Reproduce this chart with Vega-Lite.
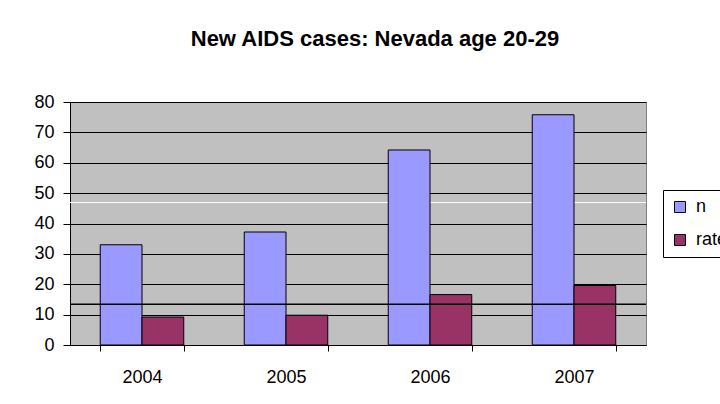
{
  "$schema": "https://vega.github.io/schema/vega-lite/v6.json",
  "autosize": {"type": "none"},
  "width": 576,
  "height": 243,
  "padding": {"left": 70, "top": 102, "right": 74, "bottom": 59},
  "background": "white",
  "title": {
    "text": "New AIDS cases: Nevada age 20-29",
    "font": "Liberation Sans",
    "fontSize": 22,
    "fontWeight": "bold",
    "color": "black",
    "anchor": "middle",
    "frame": "group",
    "baseline": "alphabetic",
    "offset": 25,
    "dx": 17
  },
  "config": {
    "font": "Liberation Sans",
    "view": {"fill": "#C0C0C0", "stroke": "#808080", "strokeWidth": 1}
  },
  "datasets": {
    "bars": [
      {"year": "2004", "series": "n", "value": 33},
      {"year": "2004", "series": "rate", "value": 9.2},
      {"year": "2005", "series": "n", "value": 37.2},
      {"year": "2005", "series": "rate", "value": 9.8},
      {"year": "2006", "series": "n", "value": 64.2},
      {"year": "2006", "series": "rate", "value": 16.6},
      {"year": "2007", "series": "n", "value": 75.8},
      {"year": "2007", "series": "rate", "value": 19.6}
    ],
    "whiteLine": [{"value": 46.9}],
    "blackLine": [{"value": 13.4}]
  },
  "layer": [
    {
      "data": {"name": "whiteLine"},
      "mark": {"type": "rule", "color": "white", "strokeWidth": 1},
      "encoding": {
        "y": {"field": "value", "type": "quantitative"}
      }
    },
    {
      "data": {"name": "bars"},
      "mark": {"type": "bar", "stroke": "black", "strokeWidth": 1},
      "encoding": {
        "x": {
          "field": "year",
          "type": "nominal",
          "scale": {"paddingInner": 0.42, "paddingOuter": 0.21},
          "axis": {
            "title": null,
            "labelAngle": 0,
            "tickBand": "extent",
            "tickColor": "black",
            "tickSize": 6,
            "domainColor": "black",
            "labelFontSize": 18,
            "labelColor": "black",
            "labelPadding": 17,
            "grid": false
          }
        },
        "xOffset": {"field": "series", "type": "nominal", "scale": {"paddingInner": 0, "paddingOuter": 0}},
        "y": {
          "field": "value",
          "type": "quantitative",
          "scale": {"domain": [0, 80], "nice": false},
          "axis": {
            "title": null,
            "values": [0, 10, 20, 30, 40, 50, 60, 70, 80],
            "tickCount": 20,
            "grid": true,
            "gridColor": "black",
            "gridOpacity": 1,
            "domainColor": "black",
            "tickColor": "black",
            "tickSize": 7,
            "labelFontSize": 18,
            "labelColor": "black",
            "labelPadding": 9,
            "labelOverlap": false
          }
        },
        "color": {
          "field": "series",
          "type": "nominal",
          "scale": {"domain": ["n", "rate"], "range": ["#9999FF", "#993366"]},
          "legend": {
            "title": null,
            "orient": "none",
            "legendX": 593,
            "legendY": 88,
            "strokeColor": "black",
            "fillColor": "white",
            "padding": 8,
            "symbolType": "square",
            "symbolSize": 121,
            "symbolStrokeColor": "black",
            "symbolStrokeWidth": 1,
            "symbolOpacity": 1,
            "labelFontSize": 18,
            "labelColor": "black",
            "labelOffset": 7,
            "rowPadding": 15
          }
        }
      }
    },
    {
      "data": {"name": "blackLine"},
      "mark": {"type": "rule", "color": "black", "strokeWidth": 1.5},
      "encoding": {
        "y": {"field": "value", "type": "quantitative"}
      }
    }
  ]
}
